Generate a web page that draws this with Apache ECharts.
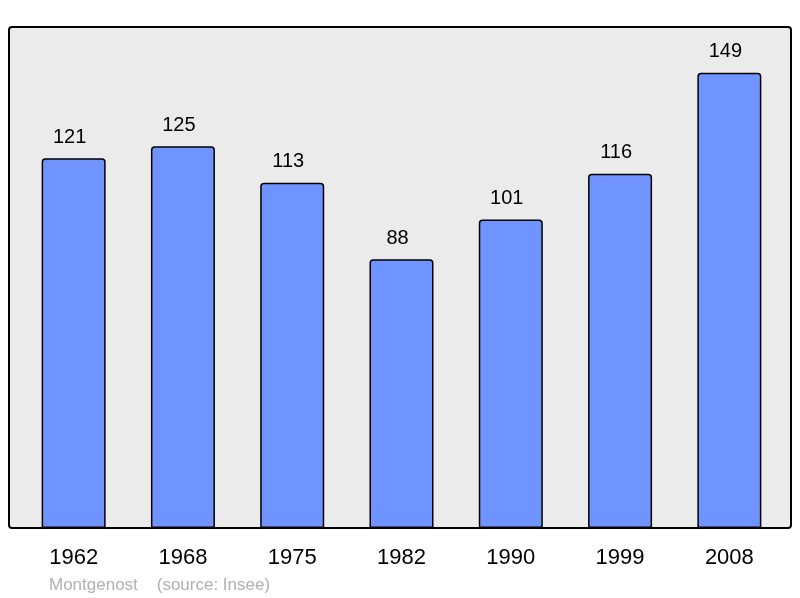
<!DOCTYPE html>
<html>
<head>
<meta charset="utf-8">
<style>
  html, body { margin: 0; padding: 0; background: #fff; }
  #chart { width: 800px; height: 598px; }
</style>
<script src="https://cdn.jsdelivr.net/npm/echarts@6/dist/echarts.min.js"></script>
</head>
<body>
<div id="chart"></div>
<script>
// 年份与人口数据
const years = ["1962", "1968", "1975", "1982", "1990", "1999", "2008"];
const population = [121, 125, 113, 88, 101, 116, 149];
const yMax = 164;

const myChart = echarts.init(document.querySelector("#chart"));
const option = {
  animation: false,
  textStyle: { fontFamily: "Liberation Sans, Arial, sans-serif" },
  // 背景框
  graphic: [
    {
      type: "rect",
      z: -1,
      shape: { x: 9, y: 27, width: 782, height: 501, r: 3 },
      style: { fill: "#ebebeb", stroke: "#000", lineWidth: 2 },
    },
    {
      type: "text",
      left: 49,
      top: 577,
      style: {
        text: "Montgenost    (source: Insee)",
        fill: "#b0b0b0",
        fontSize: 17,
        fontFamily: "Liberation Sans, Arial, sans-serif",
      },
    },
  ],
  grid: { left: 19, right: 16, top: 27, bottom: 70 },
  xAxis: {
    type: "category",
    data: years,
    axisLine: { show: false },
    axisTick: { show: false },
    axisLabel: { color: "#000", fontSize: 22, margin: 19 },
  },
  yAxis: {
    type: "value",
    min: 0,
    max: yMax,
    show: false,
    splitLine: { show: false },
  },
  series: [
    {
      type: "bar",
      data: population,
      barWidth: 64,
      itemStyle: {
        color: "#7094ff",
        borderColor: "#000",
        borderWidth: 1.5,
        borderRadius: [3, 3, 0, 0],
      },
      label: {
        show: true,
        position: "top",
        distance: 11,
        offset: [-4, 0],
        color: "#000",
        fontSize: 20,
      },
    },
  ],
};
myChart.setOption(option);
</script>
</body>
</html>
